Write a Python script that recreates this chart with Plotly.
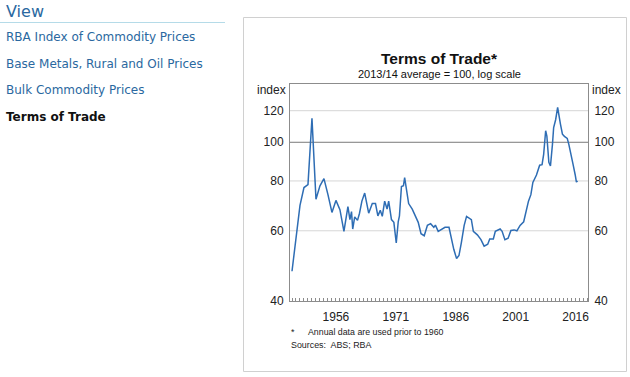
import plotly.graph_objects as go

# ---- data (terms of trade, 2013/14 average = 100) ----
years = [1945, 1946, 1947, 1948, 1949, 1950, 1951, 1952, 1953, 1954, 1955, 1956, 1957, 1958,
         1958.5, 1959.0, 1959.5, 1959.9, 1960.2, 1960.7, 1961.4, 1961.9, 1962.5, 1963.2,
         1964.2, 1965.1, 1965.9, 1966.5, 1967.1, 1967.6, 1968.2, 1968.8, 1969.2, 1969.9,
         1970.5, 1971.1, 1971.6, 1971.9, 1972.4, 1972.9, 1973.2, 1973.6, 1974.2, 1975.1,
         1975.9, 1976.6, 1977.3, 1978.1, 1978.9, 1979.7, 1980.5, 1980.9, 1981.6, 1982.4,
         1983.3, 1984.3, 1984.9, 1985.5, 1986.2, 1986.8, 1987.4, 1988.1, 1988.7, 1989.3,
         1989.9, 1990.4, 1991.4, 1992.3, 1993.1, 1994.0, 1994.5, 1995.4, 1995.9, 1997.1,
         1997.6, 1998.3, 1999.1, 1999.8, 2000.6, 2001.3, 2002.1, 2003.0, 2003.6, 2004.2,
         2004.8, 2005.3, 2006.2, 2007.0, 2007.6, 2008.0, 2008.5, 2008.8, 2009.3, 2009.7,
         2010.2, 2010.5, 2011.0, 2011.5, 2012.2, 2012.7, 2013.2, 2013.9, 2014.3, 2014.9,
         2015.4, 2015.9, 2016.2, 2016.5]
values = [47.5, 58.5, 69.5, 77.0, 78.3, 114.9, 72.0, 77.8, 81.1, 73.9, 66.7, 71.5, 67.8, 59.8,
          65.2, 69.0, 64.0, 67.0, 60.6, 65.0, 63.7, 66.4, 71.2, 74.6,
          66.4, 70.2, 70.2, 65.4, 67.5, 65.2, 71.2, 68.0, 71.2, 64.0,
          63.0, 55.9, 63.3, 65.4, 77.5, 77.8, 81.5, 76.2, 70.2, 68.0,
          65.4, 63.0, 59.0, 58.3, 61.9, 62.5, 61.2, 62.0, 59.8, 60.5,
          61.2, 61.2, 57.0, 53.9, 51.1, 52.0, 56.0, 61.9, 65.2, 64.5,
          64.0, 59.8, 58.6, 57.0, 54.9, 55.5, 57.2, 57.2, 59.8, 60.6,
          59.8, 57.0, 57.5, 60.1, 60.3, 60.0, 61.9, 63.2, 67.1, 71.2,
          73.9, 79.3, 82.8, 87.6, 87.9, 93.3, 106.9, 103.7, 89.1, 87.2,
          98.8, 108.9, 113.9, 122.3, 111.1, 104.8, 103.5, 102.3, 98.8, 93.3,
          87.6, 82.8, 79.5, 80.0]

x_ticks = [1956, 1971, 1986, 2001, 2016]
y_ticks = [40, 60, 80, 100, 120]
y_labels = ["40", "60", "80", "100", "120"]
nav_items = ["RBA Index of Commodity Prices", "Base Metals, Rural and Oil Prices",
             "Bulk Commodity Prices"]
nav_current = "Terms of Trade"

LINE = "#2e6db4"
AX = "#8c8c8c"
FONT = "Arial, Liberation Sans, sans-serif"
NAVFONT = "DejaVu Sans, Verdana, sans-serif"
NAVBLUE = "#2a68a0"

fig = go.Figure()
fig.add_trace(go.Scatter(x=years, y=values, mode="lines",
                         line=dict(color=LINE, width=1.5), hoverinfo="skip",
                         showlegend=False))
fig.add_trace(go.Scatter(x=years, y=values, mode="lines", yaxis="y2",
                         line=dict(width=0), opacity=0, hoverinfo="skip",
                         showlegend=False))

yax = dict(type="log", range=[1.60206, 2.146128], tickvals=y_ticks, ticktext=y_labels,
           showgrid=False, zeroline=False, ticks="", ticklabelstandoff=3,
           tickfont=dict(family=FONT, size=12, color="#222"),
           showline=True, linecolor=AX, linewidth=1)

fig.update_layout(
    width=630, height=377,
    margin=dict(l=290, r=42, t=84, b=76),
    paper_bgcolor="white", plot_bgcolor="white",
    font=dict(family=FONT, color="#222"),
    xaxis=dict(range=[1944.5, 2019.1], tickvals=x_ticks, ticks="",
               showgrid=False, zeroline=False, showline=True, mirror=True,
               linecolor=AX, linewidth=1, ticklabelstandoff=5,
               tickfont=dict(family=FONT, size=12, color="#222"),
               minor=dict(tick0=1945, dtick=1, ticks="inside", ticklen=3,
                          tickcolor=AX, showgrid=False)),
    yaxis=dict(**yax, side="left"),
    yaxis2=dict(**yax, side="right", overlaying="y"),
)

# gridlines
for v in [60, 80, 120]:
    fig.add_shape(type="line", xref="paper", yref="y", x0=0, x1=1, y0=v, y1=v,
                  line=dict(color="#d6d6d6", width=1), layer="below")
fig.add_shape(type="line", xref="paper", yref="y", x0=0, x1=1, y0=100, y1=100,
              line=dict(color="#7a7a7a", width=1), layer="below")

# chart container box
def px(x):
    return (x - 290) / (630 - 290 - 42)

def py(y):
    return (377 - 76 - y) / (377 - 84 - 76)

fig.add_shape(type="rect", xref="paper", yref="paper",
              x0=px(243.5), x1=px(626.5), y0=py(371.5), y1=py(17.5),
              line=dict(color="#d0d0d0", width=1), layer="below")
# nav underline
fig.add_shape(type="line", xref="paper", yref="paper",
              x0=px(0), x1=px(225), y0=py(22.5), y1=py(22.5),
              line=dict(color="#b5dbe8", width=1))

ann = []
ann.append(dict(text="<b>Terms of Trade*</b>", x=px(439), y=py(58), xanchor="center",
                yanchor="middle", font=dict(family=FONT, size=15.5, color="#111")))
ann.append(dict(text="2013/14 average = 100, log scale", x=px(439), y=py(74),
                xanchor="center", yanchor="middle", font=dict(family=FONT, size=11, color="#111")))
ann.append(dict(text="index", x=px(288), y=py(90), xanchor="right", yanchor="middle",
                font=dict(family=FONT, size=12, color="#222")))
ann.append(dict(text="index", x=px(590), y=py(90), xanchor="left", yanchor="middle",
                font=dict(family=FONT, size=12, color="#222")))
ann.append(dict(text="*", x=px(289), y=py(332), xanchor="left", yanchor="middle",
                font=dict(family=FONT, size=9, color="#222")))
ann.append(dict(text="Annual data are used prior to 1960", x=px(306), y=py(332),
                xanchor="left", yanchor="middle", font=dict(family=FONT, size=8.8, color="#222")))
ann.append(dict(text="Sources:  ABS; RBA", x=px(289), y=py(345), xanchor="left",
                yanchor="middle", font=dict(family=FONT, size=8.9, color="#222")))
ann.append(dict(text="View", x=px(4), y=py(11), xanchor="left", yanchor="middle",
                font=dict(family=NAVFONT, size=16, color=NAVBLUE)))
for i, t in enumerate(nav_items):
    ann.append(dict(text=t, x=px(4), y=py(37 + 26.7 * i), xanchor="left", yanchor="middle",
                    font=dict(family=NAVFONT, size=12, color=NAVBLUE)))
ann.append(dict(text="<b>" + nav_current + "</b>", x=px(4), y=py(117), xanchor="left",
                yanchor="middle", font=dict(family=NAVFONT, size=12, color="#111")))
for a in ann:
    a.update(xref="paper", yref="paper", showarrow=False)
fig.update_layout(annotations=ann)

fig.write_html("out.html", config={"displayModeBar": False},
               post_script="document.body.style.margin='0';")
